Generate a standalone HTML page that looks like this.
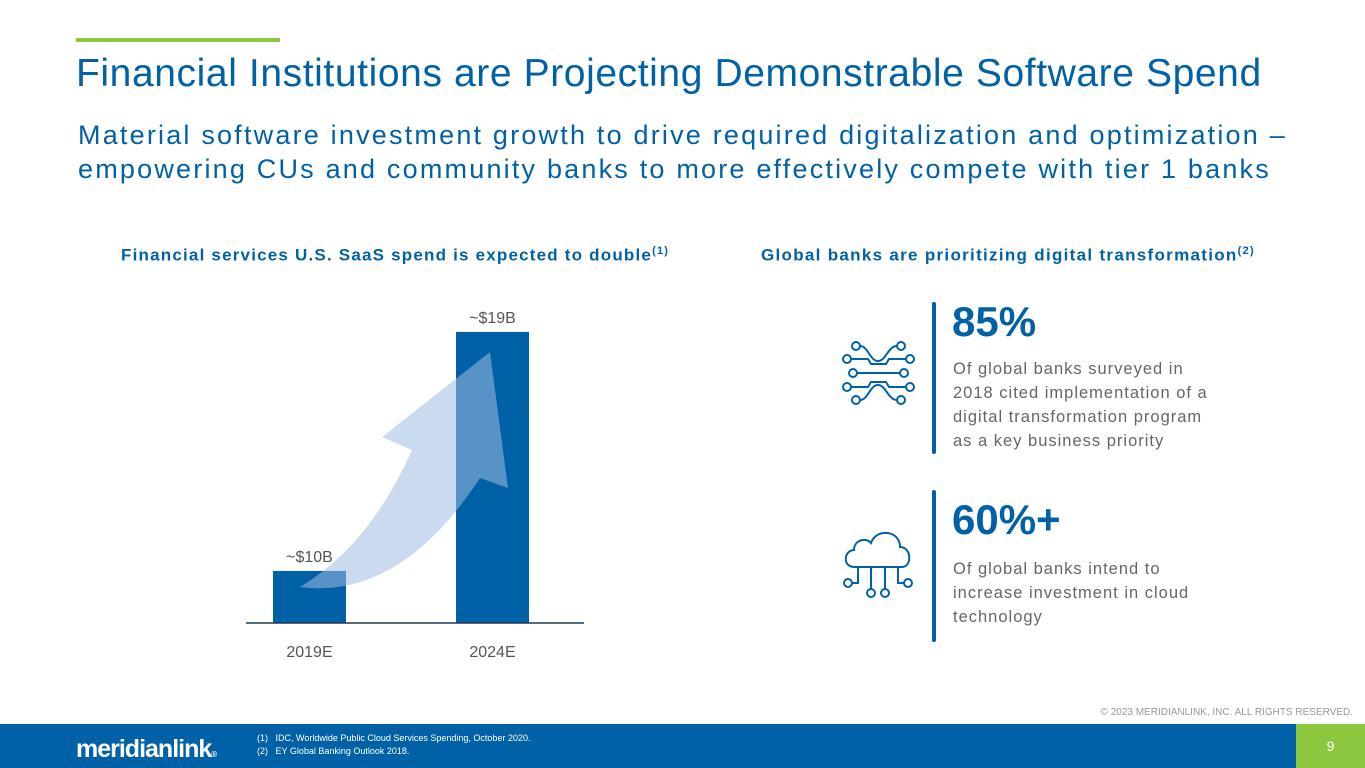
<!DOCTYPE html>
<html><head><meta charset="utf-8"><style>
body{margin:0;width:1365px;height:768px;position:relative;background:#fff;font-family:"Liberation Sans",sans-serif;overflow:hidden}
.a{position:absolute;white-space:nowrap}
</style></head><body>
<div class="a" style="left:76px;top:38px;width:204px;height:4px;background:#8dc63f"></div>
<div class="a" style="left:76px;top:52px;font-size:39px;color:#0061a6;letter-spacing:0.6px">Financial Institutions are Projecting Demonstrable Software Spend</div>
<div class="a" style="left:78px;top:118px;font-size:27px;line-height:34px;color:#0061a6;letter-spacing:2.2px">Material software investment growth to drive required digitalization and optimization –<br>empowering CUs and community banks to more effectively compete with tier 1 banks</div>
<div class="a" style="left:121px;top:245px;font-size:17px;font-weight:bold;color:#0061a6;letter-spacing:1.2px">Financial services U.S. SaaS spend is expected to double<sup style="font-size:11px">(1)</sup></div>
<div class="a" style="left:761px;top:245px;font-size:17px;font-weight:bold;color:#0061a6;letter-spacing:1.3px">Global banks are prioritizing digital transformation<sup style="font-size:11px">(2)</sup></div>
<svg class="a" style="left:0;top:0" width="1365" height="700" id="chart"></svg>
<script>
const categories=["2019E","2024E"];
const values=[10,19];
const valueLabels=["~$10B","~$19B"];
const svg=document.getElementById('chart');
const NS="http://www.w3.org/2000/svg";
const base=623, x0=[273,456], bw=73;
function y(v){return base-(v-8.04)*26.56;}
function mk(t,a){const e=document.createElementNS(NS,t);for(const k in a)e.setAttribute(k,a[k]);svg.appendChild(e);return e;}
categories.forEach((c,i)=>{
 const r=mk('rect',{x:x0[i],y:y(values[i]),width:bw,height:base-y(values[i]),fill:'#0061a6'});
 
 
 const t=mk('text',{x:x0[i]+bw/2,y:y(values[i])-9,'text-anchor':'middle','font-size':16,fill:'#555','font-family':'Liberation Sans'});t.textContent=valueLabels[i];
 
 
 const l=mk('text',{x:x0[i]+bw/2,y:657,'text-anchor':'middle','font-size':16,fill:'#555','font-family':'Liberation Sans'});l.textContent=c;
 
 
});
const ax=mk('line',{x1:246,x2:584,y1:base,y2:base,stroke:'#1f3b5a','stroke-width':1.5});


const ar=mk('path',{d:'M300,587 Q400,600 480,478 L508,488 L490,352 L382,437 L412,450 Q370,545 300,587 Z',fill:'rgba(160,190,225,0.55)'});


</script>
<svg class="a" style="left:838px;top:335px" width="80" height="80" fill="none" stroke="#0061a6" stroke-width="2">
<circle cx="18" cy="11" r="4"/><circle cx="63" cy="11" r="4"/><circle cx="9" cy="24" r="4"/><circle cx="72" cy="24" r="4"/><circle cx="15" cy="38" r="4"/><circle cx="66" cy="38" r="4"/><circle cx="9" cy="52" r="4"/><circle cx="72" cy="52" r="4"/><circle cx="18" cy="65" r="4"/><circle cx="63" cy="65" r="4"/>
<path d="M22,11 C30,11 32,26 40,26 C48,26 50,11 59,11"/><path d="M13,24 H30 L33,29 H48 L51,24 H68"/><path d="M19,38 H62"/><path d="M13,52 H30 L33,47 H48 L51,52 H68"/><path d="M22,65 C30,65 32,50 40,50 C48,50 50,65 59,65"/>
</svg>
<svg class="a" style="left:840px;top:525px" width="80" height="80" fill="none" stroke="#0061a6" stroke-width="2">
<path d="M14,42 C3,42 3,26 14,25 C14,15 26,12 31,18 C36,3 60,5 60,22 C72,22 72,42 62,42 Z"/>
<path d="M18,42 V58 H12"/><circle cx="8" cy="58" r="4"/><path d="M31,42 V64"/><circle cx="31" cy="68" r="4"/><path d="M45,42 V64"/><circle cx="45" cy="68" r="4"/><path d="M58,42 V58 H64"/><circle cx="68" cy="58" r="4"/>
</svg>
<div class="a" style="left:932px;top:302px;width:4px;height:152px;background:#0061a6;border-radius:2px"></div>
<div class="a" style="left:932px;top:490px;width:4px;height:152px;background:#0061a6;border-radius:2px"></div>
<div class="a" style="left:952px;top:298px;font-size:42px;font-weight:bold;color:#0061a6">85%</div>
<div class="a" style="left:953px;top:357px;font-size:16.5px;line-height:24px;color:#666;letter-spacing:1px">Of global banks surveyed in<br>2018 cited implementation of a<br>digital transformation program<br>as a key business priority</div>
<div class="a" style="left:952px;top:496px;font-size:42px;font-weight:bold;color:#0061a6">60%+</div>
<div class="a" style="left:953px;top:557px;font-size:16.5px;line-height:24px;color:#666;letter-spacing:1px">Of global banks intend to<br>increase investment in cloud<br>technology</div>
<div class="a" style="right:12px;top:707px;font-size:10px;color:#999">© 2023 MERIDIANLINK, INC. ALL RIGHTS RESERVED.</div>
<div class="a" style="left:0;top:724px;width:1365px;height:44px;background:#0061a6"></div>
<div class="a" style="left:1296px;top:724px;width:69px;height:44px;background:#8dc63f;color:#fff;font-size:14px;text-align:center;line-height:44px">9</div>
<div class="a" style="left:76px;top:735px;font-size:25px;font-weight:bold;color:#fff;letter-spacing:-1px">meridianlink<span style="font-size:8px">®</span></div>
<div class="a" style="left:257px;top:732px;font-size:9px;line-height:13px;color:#fff">(1)&nbsp;&nbsp;&nbsp;IDC, Worldwide Public Cloud Services Spending, October 2020.<br>(2)&nbsp;&nbsp;&nbsp;EY Global Banking Outlook 2018.</div>
</body></html>
